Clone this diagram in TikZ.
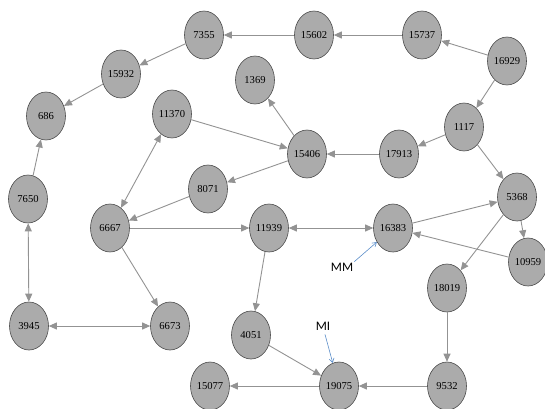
\documentclass[tikz,border=0pt]{standalone}
\usepackage{fontspec}
\setmainfont{Liberation Serif}
\newfontfamily\lblfont{Carlito}
\usetikzlibrary{arrows.meta,shapes.geometric}
\definecolor{nodefill}{HTML}{ABABAB}
\definecolor{edgecol}{HTML}{939393}
\definecolor{bordercol}{HTML}{4A4A4A}
\definecolor{bluecol}{HTML}{5B8DC9}
\tikzset{
  vert/.style={ellipse, draw=bordercol, fill=nodefill, line width=0.6pt,
    minimum width=39pt, minimum height=48pt, inner sep=0pt, font=\fontsize{10.6}{12}\selectfont},
  edge/.style={draw=edgecol, line width=0.9pt, -{Triangle[length=8pt,width=7pt]}},
  bedge/.style={draw=edgecol, line width=0.9pt, {Triangle[length=8pt,width=7pt]}-{Triangle[length=8pt,width=7pt]}},
  note/.style={font=\lblfont\fontsize{13}{15}\selectfont, inner sep=1pt},
  noteedge/.style={draw=bluecol, line width=0.6pt, -{Straight Barb[length=4pt,width=5pt]}}
}
\begin{document}
\begin{tikzpicture}[x=1pt,y=-1pt]
\useasboundingbox (0,0) rectangle (545,408);
\clip (0,0) rectangle (545,408);
\node[vert] (n7355) at (204,35) {7355};
\node[vert] (n15602) at (314,35) {15602};
\node[vert] (n15737) at (422,35) {15737};
\node[vert] (n16929) at (507,61) {16929};
\node[vert] (n15932) at (121,74) {15932};
\node[vert] (n1369) at (255,80) {1369};
\node[vert] (n686) at (46,116) {686};
\node[vert] (n11370) at (172,114) {11370};
\node[vert] (n1117) at (464,127) {1117};
\node[vert] (n17913) at (399,154) {17913};
\node[vert] (n15406) at (307,154) {15406};
\node[vert] (n8071) at (208,189) {8071};
\node[vert] (n7650) at (28,199) {7650};
\node[vert] (n5368) at (517,197) {5368};
\node[vert] (n6667) at (110,228) {6667};
\node[vert] (n11939) at (269,228) {11939};
\node[vert] (n16383) at (393,228) {16383};
\node[vert] (n10959) at (528,262) {10959};
\node[vert] (n18019) at (447,288) {18019};
\node[vert] (n3945) at (29,326) {3945};
\node[vert] (n6673) at (170,326) {6673};
\node[vert] (n4051) at (251,335) {4051};
\node[vert] (n15077) at (210,386) {15077};
\node[vert] (n19075) at (339,386) {19075};
\node[vert] (n9532) at (447,386) {9532};
\node[note] (mm) at (342,267) {MM};
\node[note] (mi) at (323,326) {MI};

\draw[edge] (n15737) -- (n15602);
\draw[edge] (n15602) -- (n7355);
\draw[edge] (n7355) -- (n15932);
\draw[edge] (n15932) -- (n686);
\draw[edge] (n7650) -- (n686);
\draw[edge] (n16929) -- (n15737);
\draw[edge] (n16929) -- (n1117);
\draw[edge] (n1117) -- (n17913);
\draw[edge] (n1117) -- (n5368);
\draw[edge] (n17913) -- (n15406);
\draw[edge] (n15406) -- (n1369);
\draw[edge] (n11370) -- (n15406);
\draw[edge] (n15406) -- (n8071);
\draw[edge] (n8071) -- (n6667);
\draw[bedge] (n11370) -- (n6667);
\draw[edge] (n6667) -- (n11939);
\draw[edge] (n6667) -- (n6673);
\draw[bedge] (n7650) -- (n3945);
\draw[bedge] (n3945) -- (n6673);
\draw[bedge] (n11939) -- (n16383);
\draw[edge] (n11939) -- (n4051);
\draw[edge] (n4051) -- (n19075);
\draw[edge] (n16383) -- (n5368);
\draw[edge] (n5368) -- (n10959);
\draw[edge] (n10959) -- (n16383);
\draw[edge] (n5368) -- (n18019);
\draw[edge] (n18019) -- (n9532);
\draw[edge] (n9532) -- (n19075);
\draw[edge] (n19075) -- (n15077);
\draw[noteedge] (mm.north east) -- (n16383);
\draw[noteedge] (mi.south) ++(2,3) coordinate (mis) (mis) -- (n19075);
\end{tikzpicture}
\end{document}
